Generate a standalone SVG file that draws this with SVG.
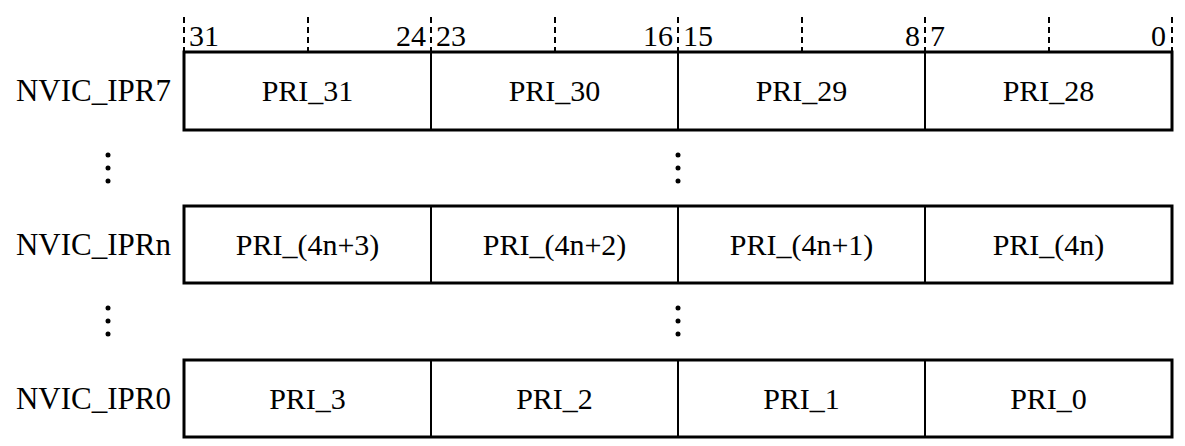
<svg xmlns="http://www.w3.org/2000/svg" width="1185" height="446" viewBox="0 0 1185 446">
<style>
text{font-family:'Liberation Serif','Times New Roman',serif;fill:#000}
.lbl{font-size:31px;text-anchor:end}
.fld{font-size:30px;text-anchor:middle}
.bit{font-size:30px}
.box{fill:#fff;stroke:#000;stroke-width:3}
.div{stroke:#000;stroke-width:2}
.tick{stroke:#000;stroke-width:2;stroke-dasharray:6,4}
</style>
<rect width="1185" height="446" fill="#fff"/>
<g id="bits">
<line class="tick" x1="184" y1="17" x2="184" y2="52"/>
<line class="tick" x1="308" y1="17" x2="308" y2="52"/>
<line class="tick" x1="431" y1="17" x2="431" y2="52"/>
<line class="tick" x1="555" y1="17" x2="555" y2="52"/>
<line class="tick" x1="678" y1="17" x2="678" y2="52"/>
<line class="tick" x1="802" y1="17" x2="802" y2="52"/>
<line class="tick" x1="925" y1="17" x2="925" y2="52"/>
<line class="tick" x1="1049" y1="17" x2="1049" y2="52"/>
<line class="tick" x1="1172" y1="17" x2="1172" y2="52"/>
<text class="bit" x="189" y="46">31</text>
<text class="bit" x="426" y="46" text-anchor="end">24</text>
<text class="bit" x="436" y="46">23</text>
<text class="bit" x="673" y="46" text-anchor="end">16</text>
<text class="bit" x="683" y="46">15</text>
<text class="bit" x="920" y="46" text-anchor="end">8</text>
<text class="bit" x="930" y="46">7</text>
<text class="bit" x="1166" y="46" text-anchor="end">0</text>
</g>
<g id="ipr7">
<rect class="box" x="184" y="52" width="988" height="78"/>
<line class="div" x1="431" y1="52" x2="431" y2="130"/>
<line class="div" x1="678" y1="52" x2="678" y2="130"/>
<line class="div" x1="925" y1="52" x2="925" y2="130"/>
<text class="lbl" x="171" y="101">NVIC_IPR7</text>
<text class="fld" x="307.5" y="101">PRI_31</text>
<text class="fld" x="554.5" y="101">PRI_30</text>
<text class="fld" x="801.5" y="101">PRI_29</text>
<text class="fld" x="1048.5" y="101">PRI_28</text>
</g>
<g id="dots1">
<circle cx="108" cy="155" r="2.5"/><circle cx="108" cy="168" r="2.5"/><circle cx="108" cy="181" r="2.5"/>
<circle cx="678" cy="155" r="2.5"/><circle cx="678" cy="168" r="2.5"/><circle cx="678" cy="181" r="2.5"/>
</g>
<g id="iprn">
<rect class="box" x="184" y="206" width="988" height="77"/>
<line class="div" x1="431" y1="206" x2="431" y2="283"/>
<line class="div" x1="678" y1="206" x2="678" y2="283"/>
<line class="div" x1="925" y1="206" x2="925" y2="283"/>
<text class="lbl" x="171" y="255">NVIC_IPRn</text>
<text class="fld" x="307.5" y="255">PRI_(4n+3)</text>
<text class="fld" x="554.5" y="255">PRI_(4n+2)</text>
<text class="fld" x="801.5" y="255">PRI_(4n+1)</text>
<text class="fld" x="1048.5" y="255">PRI_(4n)</text>
</g>
<g id="dots2">
<circle cx="108" cy="308" r="2.5"/><circle cx="108" cy="321" r="2.5"/><circle cx="108" cy="334" r="2.5"/>
<circle cx="678" cy="308" r="2.5"/><circle cx="678" cy="321" r="2.5"/><circle cx="678" cy="334" r="2.5"/>
</g>
<g id="ipr0">
<rect class="box" x="184" y="360" width="988" height="77"/>
<line class="div" x1="431" y1="360" x2="431" y2="437"/>
<line class="div" x1="678" y1="360" x2="678" y2="437"/>
<line class="div" x1="925" y1="360" x2="925" y2="437"/>
<text class="lbl" x="171" y="409">NVIC_IPR0</text>
<text class="fld" x="307.5" y="409">PRI_3</text>
<text class="fld" x="554.5" y="409">PRI_2</text>
<text class="fld" x="801.5" y="409">PRI_1</text>
<text class="fld" x="1048.5" y="409">PRI_0</text>
</g>
<g id="connectors"/>
</svg>
